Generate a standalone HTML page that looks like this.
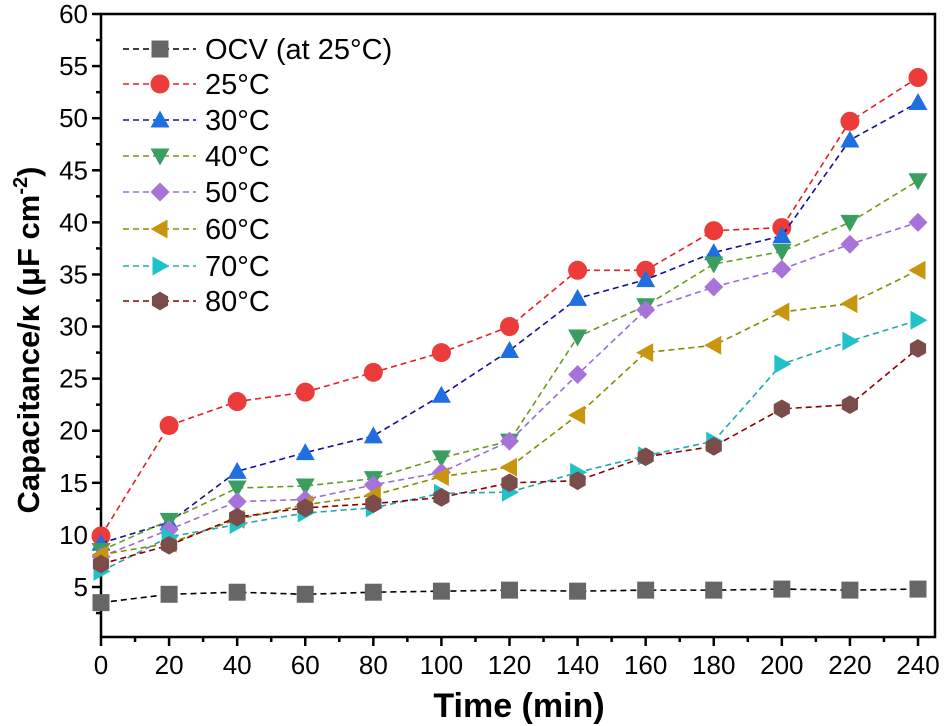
<!DOCTYPE html>
<html><head><meta charset="utf-8"><style>
body{margin:0;background:#fff;}
svg{display:block;font-family:"Liberation Sans",Arial,sans-serif;}
</style></head><body>
<svg id="chart" width="944" height="726"></svg>
<script>
const times=[0,20,40,60,80,100,120,140,160,180,200,220,240];
const labels=["OCV (at 25°C)","25°C","30°C","40°C","50°C","60°C","70°C","80°C"];
const ocv=[3.5,4.3,4.5,4.3,4.5,4.6,4.7,4.6,4.7,4.7,4.8,4.7,4.8];
const t25=[9.9,20.5,22.8,23.7,25.6,27.5,30,35.4,35.4,39.2,39.5,49.7,53.9];
const t30=[9.2,11.2,16.1,17.9,19.5,23.4,27.7,32.7,34.5,37.1,38.7,47.9,51.5];
const t40=[8.5,11.4,14.5,14.7,15.4,17.4,19,29,32,36,37.2,40,44];
const t50=[7.9,10.5,13.2,13.4,14.8,16,19,25.4,31.6,33.8,35.5,37.9,40];
const t60=[8.1,9.2,11.5,12.9,13.8,15.6,16.5,21.5,27.5,28.2,31.4,32.2,35.4];
const t70=[6.5,9.8,11,12.1,12.6,14,14.1,16,17.6,19,26.4,28.6,30.6];
const t80=[7.2,9,11.7,12.6,13,13.6,15,15.2,17.5,18.5,22.1,22.5,27.9];
const xTicks=[0,20,40,60,80,100,120,140,160,180,200,220,240];
const yTicks=[5,10,15,20,25,30,35,40,45,50,55,60];

const series=[ocv,t25,t30,t40,t50,t60,t70,t80];
const lineCols=["#000","#e32020","#10109a","#6b9a20","#9a6ad8","#8a8a00","#20a8b0","#8b0000"];
const markCols=["#666666","#ec3b3b","#1f6fe0","#3a9e60","#a873d8","#c8950f","#1ec2c8","#7a4c4a"];
const shapes=["square","circle","up","down","diamond","left","right","hex"];
const L=101,R=935,T=14,B=637;
const X=v=>L+(v-0)*(918-101)/240;
const Y=v=>587-(v-5)*(587-14)/55;
const NS="http://www.w3.org/2000/svg";
const svg=document.getElementById('chart');
function mk(t,a,p){const e=document.createElementNS(NS,t);for(const k in a)e.setAttribute(k,a[k]);(p||svg).appendChild(e);return e;}
function marker(shape,cx,cy,col,g){const s=8.5;let e;
 if(shape=="square")e=mk('rect',{x:cx-s,y:cy-s,width:2*s,height:2*s,fill:col},g);
 else if(shape=="circle")e=mk('circle',{cx:cx,cy:cy,r:s+1,fill:col},g);
 else{let pts;
  if(shape=="up")pts=[[0,-s-1],[s+1,s-1],[-s-1,s-1]];
  else if(shape=="down")pts=[[0,s+1],[s+1,-s+1],[-s-1,-s+1]];
  else if(shape=="diamond")pts=[[0,-s-1],[s+1,0],[0,s+1],[-s-1,0]];
  else if(shape=="left")pts=[[-s-1,0],[s-1,-s-1],[s-1,s+1]];
  else if(shape=="right")pts=[[s+1,0],[-s+1,-s-1],[-s+1,s+1]];
  else {pts=[];for(let i=0;i<6;i++){const a=Math.PI/6+i*Math.PI/3;pts.push([s*1.1*Math.cos(a),s*1.1*Math.sin(a)]);}}
  e=mk('polygon',{points:pts.map(p=>(cx+p[0])+','+(cy+p[1])).join(' '),fill:col},g);}
 return e;}
// axes
const ax=mk('g',{stroke:'#000','stroke-width':2.5,fill:'none'});

mk('rect',{x:L,y:T,width:R-L,height:B-T},ax);
for(let v=0;v<=240;v+=10){const x=X(v);mk('line',{x1:x,y1:B,x2:x,y2:B+(v%20==0?9:5)},ax);}
for(let v=2.5;v<=60;v+=2.5){const y=Y(v);mk('line',{x1:L,y1:y,x2:L-(v%5==0?9:5),y2:y},ax);}
xTicks.forEach(v=>{const t=mk('text',{x:X(v),y:B+37,'text-anchor':'middle','font-size':26});t.textContent=v;
});
yTicks.forEach(v=>{const t=mk('text',{x:L-13,y:Y(v)+9,'text-anchor':'end','font-size':26});t.textContent=v;
});
const xt=mk('text',{x:519,y:717,'text-anchor':'middle','font-size':34,'font-weight':'bold'});xt.textContent='Time (min)';

const yt=mk('text',{x:0,y:0,'text-anchor':'middle','font-size':31,'font-weight':'bold',transform:'translate(39,340) rotate(-90)'});
yt.innerHTML='Capacitance/κ (μF cm<tspan dy="-12" font-size="20">-2</tspan><tspan dy="12">)</tspan>';

// series
series.forEach((d,i)=>{const g=mk('g',{});
 
 
 mk('polyline',{points:d.map((v,j)=>X(times[j])+','+Y(v)).join(' '),fill:'none',stroke:lineCols[i],'stroke-width':1.6,'stroke-dasharray':'6,4'},g);
 d.forEach((v,j)=>{const m=marker(shapes[i],X(times[j]),Y(v),markCols[i],g);
  
  });
});
// legend
const lg=mk('g',{});
const ly=[49,84,120,156,192,229,266,301];
labels.forEach((lb,i)=>{const g=mk('g',{},lg);
 
 
 mk('line',{x1:123,y1:ly[i],x2:196,y2:ly[i],stroke:lineCols[i],'stroke-width':1.6,'stroke-dasharray':'6,4'},g);
 marker(shapes[i],160,ly[i],markCols[i],g);
 const t=mk('text',{x:205,y:ly[i]+10,'font-size':29},g);t.textContent=lb;});
</script>
</body></html>
